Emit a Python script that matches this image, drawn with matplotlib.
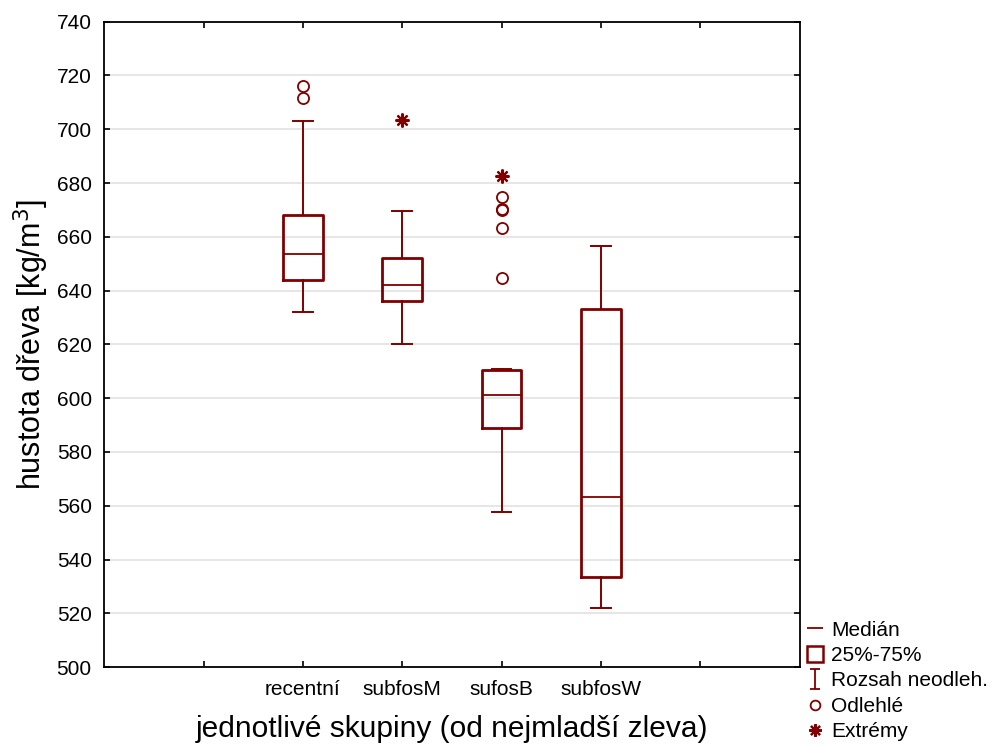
import matplotlib

matplotlib.use("Agg")
import matplotlib.pyplot as plt
from matplotlib.lines import Line2D
from matplotlib.path import Path

plt.rcParams["font.family"] = ["Liberation Sans", "DejaVu Sans"]

# --- hustota dřeva podle skupin [kg/m3] ---
skupiny = ["recentní", "subfosM", "sufosB", "subfosW"]
pozice = [2, 3, 4, 5]
median = [653.6, 642.2, 601.0, 563.1]
q25 = [644.1, 636.3, 588.8, 533.6]
q75 = [668.0, 652.3, 610.5, 633.3]
vous_min = [632.0, 620.3, 557.7, 521.9]
vous_max = [703.2, 669.5, 610.8, 656.7]
odlehle = [[716.1, 711.7], [], [674.7, 670.3, 669.8, 663.2, 644.5], []]
extremy = [[], [703.4], [682.5], []]

BARVA = "#800000"

fig = plt.figure(figsize=(9.92, 7.47), dpi=100)
ax = fig.add_axes([0.105, 0.107, 0.701, 0.864])

stats = []
for i in range(len(skupiny)):
    stats.append(dict(med=median[i], q1=q25[i], q3=q75[i],
                      whislo=vous_min[i], whishi=vous_max[i],
                      fliers=odlehle[i], label=skupiny[i]))

ax.bxp(stats, positions=pozice, widths=0.4, showfliers=True,
       boxprops=dict(color=BARVA, lw=2.0),
       medianprops=dict(color=BARVA, lw=1.3),
       whiskerprops=dict(color=BARVA, lw=1.4),
       capprops=dict(color=BARVA, lw=1.4),
       capwidths=0.2,
       flierprops=dict(marker="o", markerfacecolor="none",
                       markeredgecolor=BARVA, markersize=8, markeredgewidth=1.3),
       zorder=3)

hvezda = (8, 2, 0)
for p, ext in zip(pozice, extremy):
    if ext:
        ax.plot([p] * len(ext), ext, ls="none", marker=hvezda, ms=10,
                mec=BARVA, mew=1.6, zorder=4)

ax.set_xlim(0, 7)
ax.set_ylim(500, 740)
ax.set_yticks(range(500, 741, 20))
ax.set_xticks([1, 2, 3, 4, 5, 6])
ax.set_xticklabels(["", *skupiny, ""])
ax.yaxis.grid(True, color="#e2e2e2", lw=1.2, zorder=0)
ax.set_axisbelow(True)
ax.tick_params(direction="in", length=4, width=1.2, top=True, right=True,
               labelsize=15, pad=9, colors="black")
for s in ax.spines.values():
    s.set_linewidth(1.3)

ax.set_xlabel("jednotlivé skupiny (od nejmladší zleva)", fontsize=21.5, labelpad=12)
ax.set_ylabel("hustota dřeva [kg/m$^3$]", fontsize=22, labelpad=4)

# legenda se značkami jako u krabicového grafu
cap_path = Path([(-0.5, 1), (0.5, 1), (0, 1), (0, -1), (-0.5, -1), (0.5, -1)],
                [Path.MOVETO, Path.LINETO, Path.MOVETO, Path.LINETO,
                 Path.MOVETO, Path.LINETO])
handles = [
    Line2D([], [], ls="none", marker="_", ms=12, mew=1.3, color=BARVA),
    Line2D([], [], ls="none", marker="s", ms=12, mfc="none", mec=BARVA, mew=1.8),
    Line2D([], [], ls="none", marker=cap_path, ms=14, mew=1.3, color=BARVA),
    Line2D([], [], ls="none", marker="o", ms=7, mfc="none", mec=BARVA, mew=1.3),
    Line2D([], [], ls="none", marker=hvezda, ms=9, mec=BARVA, mew=1.6),
]
labels = ["Medián", "25%-75%", "Rozsah neodleh.", "Odlehlé", "Extrémy"]
fig.legend(handles, labels, loc="lower left", bbox_to_anchor=(0.8, -0.012),
           frameon=False, fontsize=15, handlelength=0.7, handletextpad=0.4,
           labelspacing=0.31, borderpad=0.2)

fig.savefig("out.png", dpi=100)
